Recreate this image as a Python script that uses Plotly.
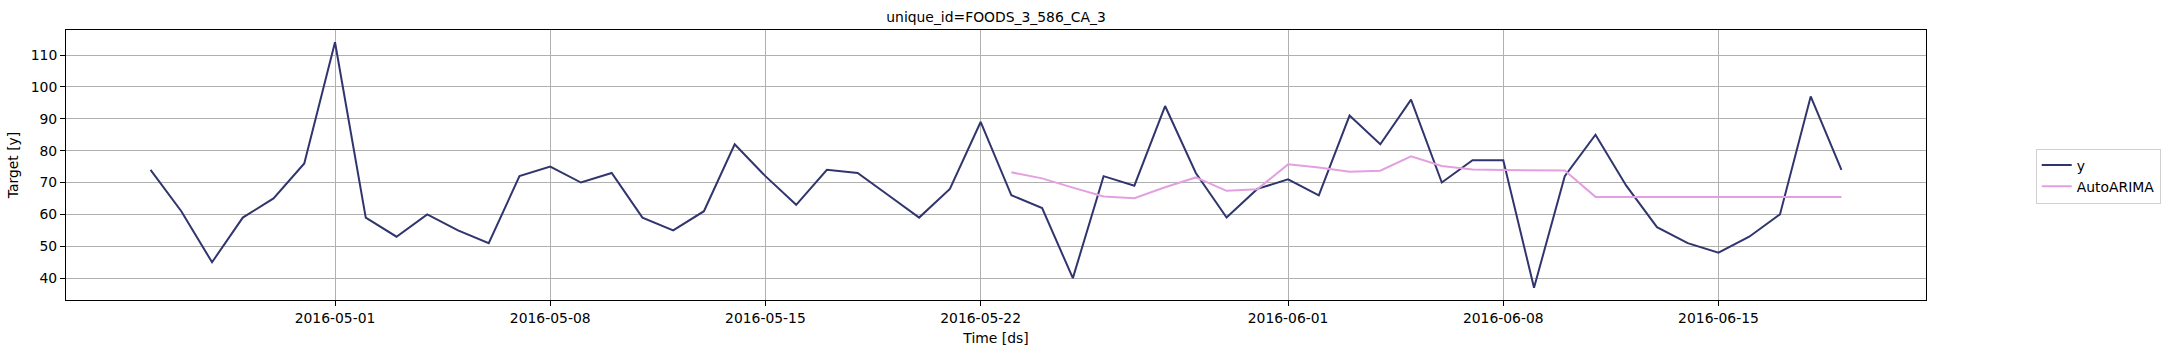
import pandas as pd
import plotly.graph_objects as go

dates_y = pd.date_range("2016-04-25", "2016-06-19", freq="D")
y_values = [74, 61, 45, 59, 65, 76, 114, 59, 53, 60, 55, 51, 72, 75, 70, 73, 59, 55,
            61, 82, 72, 63, 74, 73, 66, 59, 68, 89, 66, 62, 40, 72, 69, 94, 73, 59,
            68, 71, 66, 91, 82, 96, 70, 77, 77, 37, 72, 85, 69, 56, 51, 48, 53, 60,
            97, 74]

dates_fc = pd.date_range("2016-05-23", "2016-06-19", freq="D")
arima_values = [73.2, 71.3, 68.4, 65.6, 65.1, 68.5, 71.6, 67.4, 67.9, 75.7, 74.7,
                73.4, 73.7, 78.2, 75.2, 74.1, 73.9, 73.8, 73.8, 65.5, 65.5, 65.5,
                65.5, 65.5, 65.5, 65.5, 65.5, 65.5]

tick_dates = ["2016-05-01", "2016-05-08", "2016-05-15", "2016-05-22",
              "2016-06-01", "2016-06-08", "2016-06-15"]
y_ticks = [40, 50, 60, 70, 80, 90, 100, 110]

font = "DejaVu Sans"
fs = 13.9
fig = go.Figure()
fig.add_trace(go.Scatter(x=dates_y, y=y_values, mode="lines", name="y",
                         line=dict(color="#31356e", width=2)))
fig.add_trace(go.Scatter(x=dates_fc, y=arima_values, mode="lines", name="AutoARIMA",
                         line=dict(color="#e3a0e0", width=2)))

axis_common = dict(showline=True, linecolor="black", linewidth=1, mirror=True,
                   showgrid=True, gridcolor="#b0b0b0", gridwidth=1,
                   ticks="outside", ticklen=5, tickcolor="black",
                   tickfont=dict(family=font, size=fs, color="black"), zeroline=False)

fig.update_layout(
    width=2168, height=353,
    margin=dict(l=66, r=242, t=30, b=53, autoexpand=False),
    paper_bgcolor="white", plot_bgcolor="white",
    title=dict(text="unique_id=FOODS_3_586_CA_3", x=(66 + 1926) / 2 / 2168, xanchor="center",
               y=1 - 17 / 353, yanchor="middle",
               font=dict(family=font, size=fs, color="black")),
    xaxis=dict(**axis_common,
               range=["2016-04-22 06:00", "2016-06-21 18:00"],
               tickvals=tick_dates, ticktext=tick_dates,
               title=dict(text="Time [ds]", font=dict(family=font, size=fs, color="black"), standoff=8)),
    yaxis=dict(**axis_common,
               range=[33.15, 117.85], tickvals=y_ticks,
               title=dict(text="Target [y]", font=dict(family=font, size=fs, color="black"), standoff=8)),
    legend=dict(x=1.059, y=0.459, xanchor="left", yanchor="middle", itemwidth=30,
                bgcolor="white", bordercolor="#d0d0d0", borderwidth=1,
                font=dict(family=font, size=fs, color="black")),
    showlegend=True,
)

fig.write_html("out.html")
